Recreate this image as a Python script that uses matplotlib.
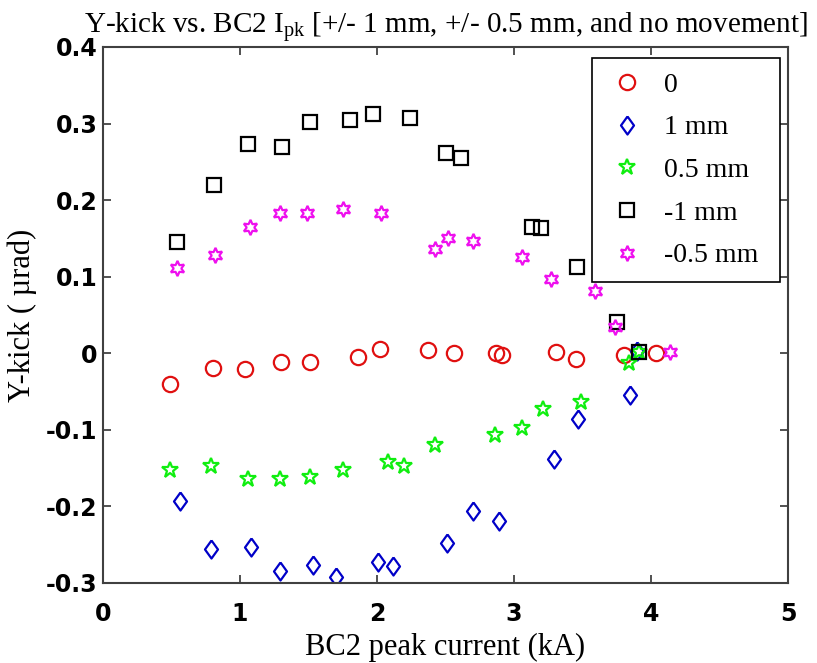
import matplotlib
matplotlib.use("Agg")
import matplotlib.pyplot as plt

plt.rcParams['mathtext.fontset'] = 'custom'
plt.rcParams['mathtext.rm'] = 'Liberation Serif'
plt.rcParams['mathtext.it'] = 'Liberation Serif'

# ---- data ----
x_0 = [0.49, 0.80, 1.04, 1.30, 1.51, 1.86, 2.02, 2.37, 2.56, 2.87, 2.91, 3.31, 3.45, 3.80, 4.04]
y_0 = [-0.040, -0.019, -0.020, -0.011, -0.011, -0.005, 0.005, 0.004, 0.000, 0.000, -0.002, 0.002, -0.007, -0.002, 0.000]

x_1mm = [0.56, 0.79, 1.08, 1.29, 1.53, 1.70, 2.01, 2.12, 2.51, 2.70, 2.89, 3.29, 3.47, 3.85, 3.90]
y_1mm = [-0.193, -0.255, -0.253, -0.284, -0.277, -0.292, -0.272, -0.278, -0.248, -0.206, -0.219, -0.138, -0.086, -0.055, 0.003]

x_05mm = [0.49, 0.79, 1.06, 1.29, 1.51, 1.75, 2.08, 2.20, 2.42, 2.86, 3.06, 3.21, 3.49, 3.84, 3.91]
y_05mm = [-0.152, -0.147, -0.164, -0.164, -0.162, -0.153, -0.142, -0.147, -0.120, -0.107, -0.098, -0.073, -0.063, -0.013, 0.002]

x_m1mm = [0.54, 0.81, 1.06, 1.31, 1.51, 1.80, 1.97, 2.24, 2.50, 2.61, 3.13, 3.20, 3.46, 3.75, 3.91]
y_m1mm = [0.145, 0.220, 0.273, 0.270, 0.302, 0.305, 0.312, 0.307, 0.262, 0.255, 0.165, 0.163, 0.113, 0.041, 0.002]

x_m05mm = [0.54, 0.82, 1.07, 1.29, 1.49, 1.75, 2.03, 2.42, 2.52, 2.70, 3.06, 3.27, 3.59, 3.74, 4.14]
y_m05mm = [0.111, 0.128, 0.165, 0.183, 0.183, 0.188, 0.183, 0.136, 0.151, 0.146, 0.126, 0.097, 0.081, 0.034, 0.002]

labels = ['0', '1 mm', '0.5 mm', '-1 mm', '-0.5 mm']
x_ticks = [0, 1, 2, 3, 4, 5]
y_ticks = [-0.3, -0.2, -0.1, 0, 0.1, 0.2, 0.3, 0.4]
y_ticklabels = ['-0.3', '-0.2', '-0.1', '0', '0.1', '0.2', '0.3', '0.4']

fig = plt.figure(figsize=(8.17, 6.63), dpi=100)
ax = fig.add_axes([103/817, 80/663, 685/817, 536/663])

diamond = [(0, 1), (0.72, 0), (0, -1), (-0.72, 0), (0, 1)]

mew = 1.6
ax.plot(x_0, y_0, linestyle='none', marker='o', ms=11, mfc='none', mec='#e01010', mew=mew, label=labels[0])
ax.plot(x_1mm, y_1mm, linestyle='none', marker=diamond, ms=13, mfc='none', mec='#0000c8', mew=mew, label=labels[1])
ax.plot(x_05mm, y_05mm, linestyle='none', marker='*', ms=12, mfc='none', mec='#10ee10', mew=mew, label=labels[2])
ax.plot(x_m1mm, y_m1mm, linestyle='none', marker='s', ms=10, mfc='none', mec='black', mew=mew, label=labels[3])
ax.plot(x_m05mm, y_m05mm, linestyle='none', marker=(6, 1, 0), ms=11, mfc='none', mec='#ee10ee', mew=mew, label=labels[4])

ax.set_xlim(0, 5)
ax.set_ylim(-0.3, 0.4)
ax.set_xticks(x_ticks)
ax.set_yticks(y_ticks)
ax.set_yticklabels(y_ticklabels)
ax.tick_params(direction='in', length=6, width=1.2, top=True, right=True,
               labelsize=17, colors='#333333', labelcolor='black')
ax.tick_params(axis='y', pad=4)
ax.tick_params(axis='x', pad=14)
for lab in ax.get_xticklabels() + ax.get_yticklabels():
    lab.set_fontweight('bold')
    lab.set_family('DejaVu Sans')
for sp in ax.spines.values():
    sp.set_linewidth(1.5)
    sp.set_color('#404040')

serif = 'Liberation Serif'
ax.set_xlabel('BC2 peak current (kA)', fontsize=22, family=serif, labelpad=5)
ax.set_ylabel('Y-kick ( \u00b5rad)', fontsize=22, family=serif, labelpad=6)
ax.set_title(r'Y-kick vs. BC2 I$_{\mathrm{pk}}$ [+/- 1 mm, +/- 0.5 mm, and no movement]',
             fontsize=21, family=serif, pad=10)

leg = ax.legend(loc='upper left', bbox_to_anchor=(0.714, 0.562, 0.274, 0.417), mode='expand',
                borderaxespad=0, prop={'family': serif, 'size': 20}, fancybox=False,
                edgecolor='black', framealpha=1, handletextpad=0.6, labelspacing=0.62,
                borderpad=0.5, handlelength=1.5)
leg.get_frame().set_linewidth(1.2)

fig.savefig('out.png', dpi=100)
